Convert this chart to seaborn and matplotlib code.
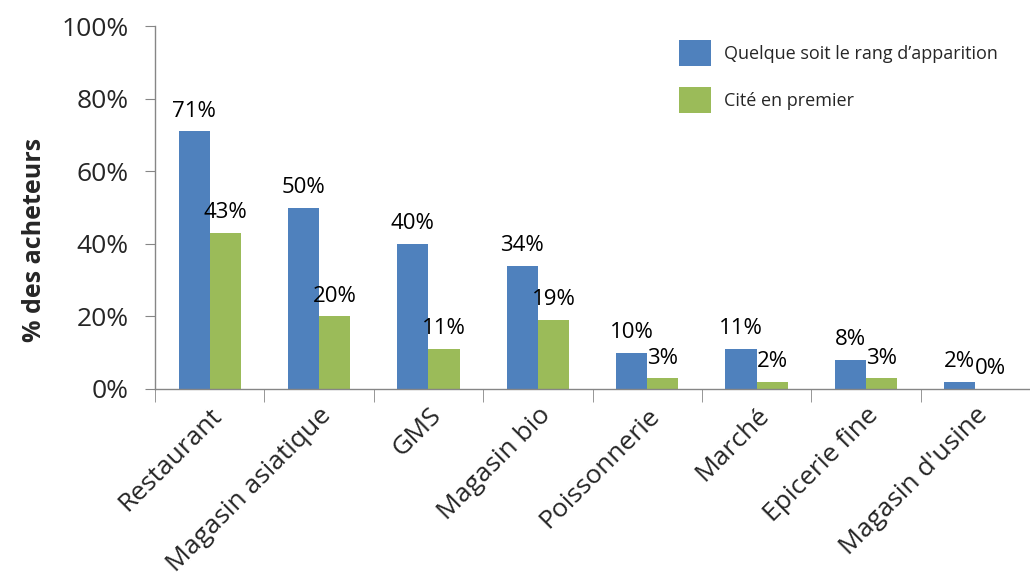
import matplotlib
matplotlib.use("Agg")
import matplotlib.pyplot as plt
import seaborn as sns
import pandas as pd
import numpy as np
from matplotlib.patches import Patch

categories = ["Restaurant", "Magasin asiatique", "GMS", "Magasin bio",
              "Poissonnerie", "Marché", "Epicerie fine", "Magasin d'usine"]
series_names = ["Quelque soit le rang d\u2019apparition", "Cité en premier"]
quelque = [71, 50, 40, 34, 10, 11, 8, 2]
premier = [43, 20, 11, 19, 3, 2, 3, 0]
colors = ["#4F81BD", "#9BBB59"]
ytick_vals = [0, 20, 40, 60, 80, 100]

sns.set_style("white")
plt.rcParams['font.family'] = ['Open Sans', 'DejaVu Sans']

df = pd.DataFrame({
    "cat": categories * 2,
    "serie": [series_names[0]] * len(categories) + [series_names[1]] * len(categories),
    "val": quelque + premier,
})

fig = plt.figure(figsize=(10.30, 5.83), dpi=100)
ax = fig.add_axes([155/1030, 1 - 389/583, (1030 - 155)/1030, (389 - 26)/583])

sns.barplot(data=df, x="cat", y="val", hue="serie", order=categories,
            hue_order=series_names, palette=colors, width=0.57, gap=0,
            saturation=1, ax=ax, legend=False, errorbar=None, linewidth=0)

for cont in ax.containers:
    for bar in cont:
        h = bar.get_height()
        ax.annotate(f"{int(round(h))}%", (bar.get_x() + bar.get_width()/2, h),
                    xytext=(0, 10.5), textcoords="offset points",
                    ha="center", va="baseline", fontsize=16, color="black")

ax.set_ylim(0, 100)
ax.set_xlim(-0.5, -0.5 + (1030 - 155)/111)
ax.set_yticks(ytick_vals)
ax.set_yticklabels([f"{v}%" for v in ytick_vals], fontsize=19)
ax.set_xticks(range(len(categories)))
ax.set_xticklabels(categories, rotation=45, ha="right", rotation_mode="anchor", fontsize=19)
ax.tick_params(axis="x", which="major", length=0, pad=10)
ax.set_xticks(np.arange(len(categories) + 1) - 0.5, minor=True)
ax.tick_params(axis="x", which="minor", length=9, color="#868686", bottom=True)
ax.tick_params(axis="y", length=7, color="#868686", left=True, pad=12)
ax.set_xlabel("")
ax.set_ylabel("% des acheteurs", fontsize=18, fontweight="bold")
ax.yaxis.set_label_coords(-0.123, 0.41)

for s in ["top", "right"]:
    ax.spines[s].set_visible(False)
for s in ["left", "bottom"]:
    ax.spines[s].set_color("#868686")
    ax.spines[s].set_linewidth(1)

handles = [Patch(facecolor=c, edgecolor="none") for c in colors]
fig.legend(handles, series_names, loc="upper left",
           bbox_to_anchor=(679/1030, 1 - 40/583), frameon=False,
           fontsize=13, handlelength=1.75, handleheight=1.85,
           labelspacing=1.15, handletextpad=0.75, borderpad=0, borderaxespad=0)

fig.savefig("out.png", dpi=100)
